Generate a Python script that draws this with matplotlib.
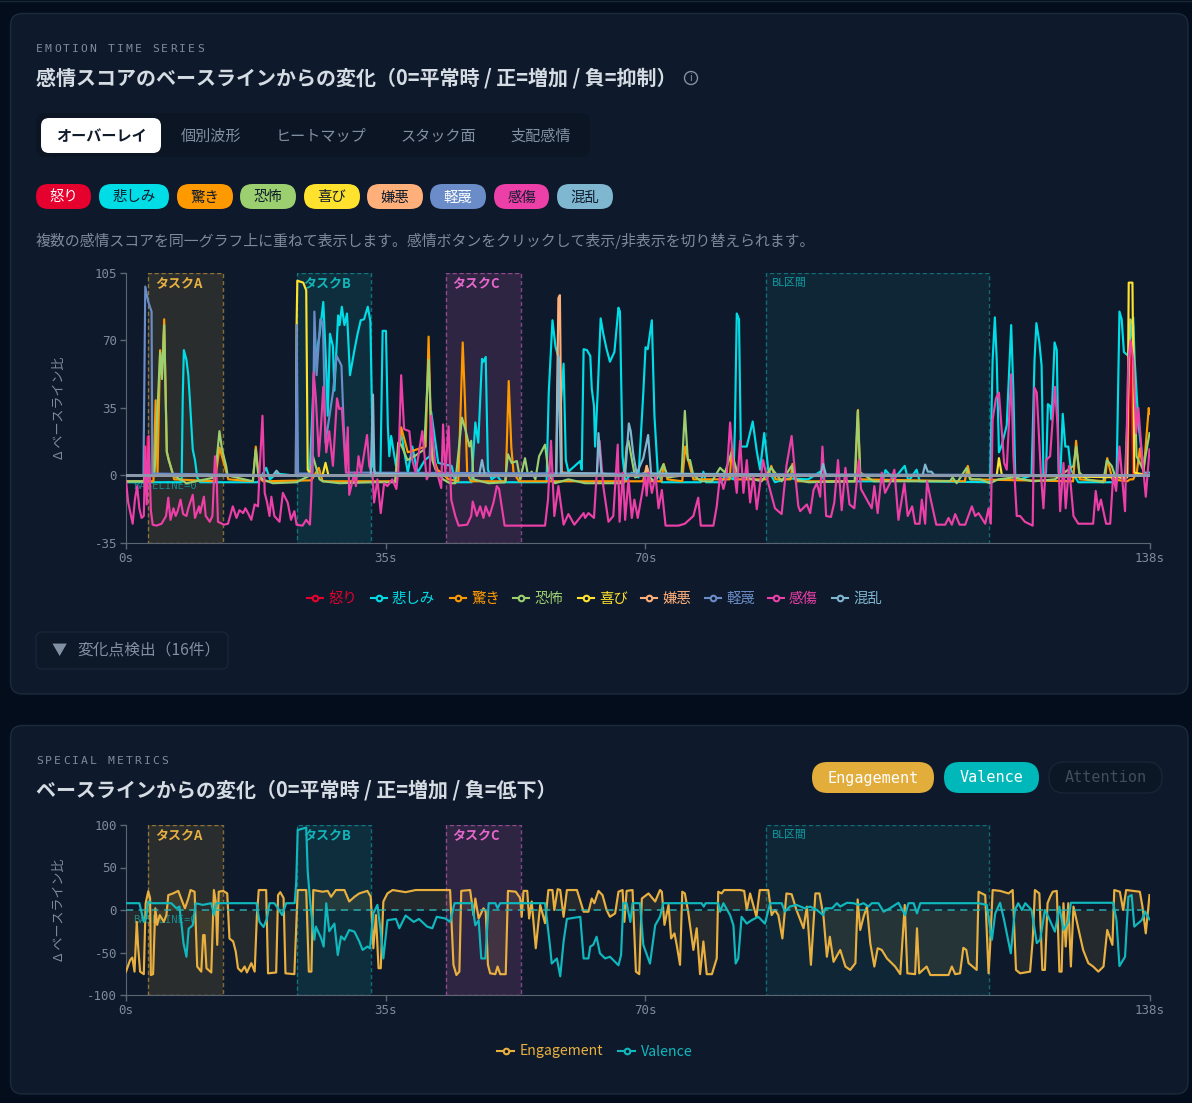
import matplotlib
matplotlib.use("Agg")
import matplotlib.pyplot as plt
from matplotlib.patches import FancyBboxPatch, Circle

plt.rcParams['font.family'] = ['Noto Sans CJK JP', 'DejaVu Sans']

# emotion series, seconds and score change
anger_t = [0, 2.7, 2.9, 3.1, 58.5, 58.75, 59, 135, 135.45, 135.8, 138]
anger_v = [0, 0, 20, 0, 0, 2, 0, 0, 68, 0, 0]

sad_t = [0, 7.5, 7.65, 7.8, 8.15, 8.4, 8.6, 9, 9.3, 9.6, 10, 17.8, 18.9, 19.4, 20.3, 22.7, 24.6, 24.8, 25.4, 26.1, 26.6, 26.95, 27.2, 27.5, 27.9, 28.1, 28.6, 28.8, 29.1, 29.45, 29.8, 30.2, 30.75, 31.2, 31.65, 32.1, 32.6, 32.95, 33.3, 33.7, 34.3, 34.6, 35.05, 35.3, 35.5, 35.75, 36.4, 37.1, 38, 38.6, 39.3, 40.3, 40.95, 41.15, 42.1, 43.9, 44.4, 46.6, 47.1, 47.5, 48, 48.2, 48.5, 48.8, 49.3, 50, 50.7, 56.7, 57, 57.5, 57.9, 58.4, 58.65, 59, 59.3, 59.65, 61.25, 61.45, 61.7, 62.15, 62.6, 62.8, 63.1, 63.25, 63.6, 64, 64.35, 64.8, 65.25, 65.85, 66.4, 66.6, 66.95, 67.3, 68.2, 69.1, 69.75, 70.05, 70.35, 70.9, 71.25, 71.7, 72.25, 77.5, 77.85, 78.2, 80.3, 80.75, 81.9, 82.1, 82.35, 82.65, 82.9, 83.7, 84.5, 85.05, 85.5, 86.05, 86.6, 87.5, 89.3, 92, 93.6, 94.2, 102, 102.4, 103.5, 105, 105.5, 106.6, 107, 116.5, 116.85, 117.15, 117.4, 117.7, 118.1, 118.75, 119.15, 119.35, 119.65, 119.9, 120.55, 122.1, 122.5, 122.75, 123.15, 123.45, 123.7, 124.05, 124.3, 124.6, 124.8, 125.2, 125.5, 125.75, 126, 126.3, 126.65, 127.05, 127.4, 128.4, 133.55, 133.95, 134.25, 134.55, 135.15, 135.8, 136, 136.5, 136.95, 137.25, 138]
sad_v = [-3.5, -3.5, 40, 65, 60, 52, 40, 13.5, 8, -1, -3.5, -3.5, 4, -2, 1, 0, 0, 5, 57, 73, 90, 60, 31, 73.5, 67, 44, 83, 78, 87.5, 78, 84, 52, 64, 73, 80.5, 81, 87.5, 80, 5, 0, 0, 75, 75, 26, 10, 20.5, 5, 22, 1.5, 15, 1.5, 8, 10, 33, 6.5, 5, -3.5, -3.5, 27.5, 17, 60.5, 59, 61.5, 3, -2, 0, -3.5, -3.5, 43, 80.5, 67, 60, 38, 58, 8, 2, 7.5, 3, 65.5, 65, 62, 45, 36, 15, 43, 81.5, 73.5, 65.5, 59, 64, 87, 85, 10, -3, 1.5, -1, 43, 66.5, 65.5, 80.5, 31, 1.5, -3.5, -3.5, 2, -3.5, -3.5, 0, -2, 25, 84, 81, 15, 15, 28, 12.5, 3, 22, 3, -3.5, -1.5, -2, 2, -3, -3, 2.8, -2, 5, -3, 3, -3, -3.5, 60, 82, 60, 12, 16, 26, 60, 78, 43, 0, -2, 0, 60, 79, 69, 57, 0, 1.5, 37, 36, 29, 69, 65, 1.5, 1.5, 32, 15, 15, 3, -3.5, -3.5, 85, 81, 64, 62, 82, 60, 27, 12, 1.5, 1.5]

surprise_t = [0, 3.7, 4, 4.25, 4.6, 4.85, 5.15, 5.5, 6.5, 12, 12.6, 13.3, 13.8, 17.1, 17.5, 17.9, 18.5, 25, 26, 26.5, 36.3, 36.7, 37.1, 38, 40.4, 40.8, 41.2, 42, 43.5, 44.8, 45, 45.4, 45.7, 46, 46.5, 51.2, 51.6, 51.95, 52.25, 53, 69.7, 70.2, 70.6, 72.2, 72.5, 73, 75, 75.4, 75.8, 76.5, 81.4, 81.7, 82.2, 86.4, 87, 87.6, 89.6, 89.85, 90.4, 98.3, 98.7, 99, 113.1, 113.5, 113.9, 127.7, 128.1, 128.6, 132, 132.3, 133, 135, 135.4, 135.8, 136.3, 136.7, 137.2, 137.9, 138]
surprise_v = [-3, -3, 39, 1, 65, 52, 81, 12, -2, -3, 14.5, 5, -2, -3, 15, -1, -3, -2.5, 4, -3, -3, 10, 25, 12, 15, 72, 12, 3, -2, -3, 20, 69, 39, 1.5, -3, -3, 49, 15, 1.5, -3, -3, 5, -3, -3, 6, -2, -3, 15, 8, -2, -2, 15, -2, -2, 5, -2, -2, 6, -3, -3, 34, -2, -3, 5, -2, -3, 18, -2, -3, 9, -2, -3, -2, -2, 2, 14, 1.5, 35, 32]

fear_t = [0, 2.4, 2.7, 3.1, 3.85, 4.1, 4.6, 4.85, 5.15, 5.5, 5.75, 6.4, 7.3, 8.15, 12, 12.6, 12.95, 13.5, 13.7, 17.1, 17.5, 17.8, 18.05, 18.4, 19.8, 23, 24.8, 25.2, 26.1, 26.55, 28.8, 33.25, 36.3, 36.7, 37.1, 37.95, 38.9, 40.2, 40.8, 41.3, 41.75, 42.75, 43.7, 44.4, 45.3, 45.75, 46.3, 46.55, 46.85, 48.9, 51.1, 51.5, 52, 52.7, 53.15, 53.8, 54.2, 54.7, 55.2, 55.7, 56.5, 57, 57.85, 59.65, 61.9, 66.4, 67.1, 67.5, 67.75, 68.65, 69.95, 71.35, 72.45, 73.1, 74.9, 75.35, 75.75, 76.05, 76.5, 77.6, 79, 80.1, 80.75, 81.65, 82.55, 85.7, 87, 88.4, 89.75, 90.2, 92, 98.25, 98.65, 99, 99.65, 100.8, 111.1, 111.45, 112, 113.35, 113.8, 115.15, 116.5, 117.6, 119.65, 122.35, 125.25, 127.75, 128.1, 128.55, 129.55, 131.75, 132.25, 132.9, 133.35, 134.7, 135.15, 135.4, 135.8, 136.25, 137.15, 138]
fear_v = [-3, -3, 7, -1, 1, 22, 64, 50, 78, 12.5, 8, 0, -2, -4, -1, 23, 13.5, 5, 0, -3, 13.5, 1.5, 0, -2, -4, -3.5, 0, 10, -2, -3, -4, -3.5, -3.5, 17, 16, 8, 10, 13.5, 60, 8, 3, -2, -4, -4, 30, 24, 15, 18, -2, -4, -3.5, 11, 6.5, 7.5, -2, 9, 0, 2, -2, 10, 16, 0, -4, -2, -4, -4, -4, 15, 18, -1, 1.5, -3.5, 5.7, -1, 0, 33.5, 8, 8, 0, -3, -3, 4, 1.5, 12, 0, -3, 4, -3, 5, -2, -3.5, -3, 33.5, 1.5, 0, -3, -3, -1, -4, 4, -2, -2, -4, -2, -1, -3, -2, 5, 15, 1.5, -2, -3.5, 8, 5, 0, -2, 43, 81, 78, 10, 3, 22]

joy_t = [0, 22.9, 23, 23.1, 23.9, 24.3, 24.5, 25, 26.5, 26.9, 27.3, 117.4, 117.7, 118.1, 135, 135.2, 135.7, 135.95, 138]
joy_v = [0, 0, 78, 101, 100, 96, 3, 0, 0, 6.6, 0, 0, 9, 0, -1, 100, 100, 1.5, 0]

disgust_t = [0, 58, 58.3, 58.5, 58.75, 70, 70.2, 70.6, 138]
disgust_v = [0, 0, 92, 93.5, 1.5, 0, 5, 0, 0]

contempt_t = [0, 2.35, 2.6, 3, 3.45, 3.55, 22.9, 23, 23.2, 25.15, 25.4, 25.7, 26.2, 26.55, 26.9, 27.9, 28.4, 29.05, 29.35, 29.7, 138]
contempt_v = [0, 0, 98, 90, 85, 1, 0, 78, 1, 1, 85, 52, 81, 79, 17, 43, 62, 57, 26, 1.5, 0]

sentiment_t = [0, .3, .9, 1.2, 1.5, 1.8, 2.1, 2.4, 2.6, 2.8, 3.05, 3.35, 3.6, 4.1, 4.8, 5.4, 5.7, 6, 6.4, 6.7, 7, 7.35, 7.7, 8.15, 8.4, 9, 9.3, 9.85, 10, 10.5, 10.75, 11.3, 11.65, 12, 12.2, 12.4, 13.2, 13.75, 14.4, 14.9, 15.3, 15.8, 16.1, 16.45, 16.9, 17.35, 17.8, 18, 18.4, 18.7, 19, 19.35, 19.6, 20, 20.7, 21.15, 21.8, 22.25, 22.7, 23, 23.8, 24.3, 24.8, 25, 25.3, 25.6, 26, 26.3, 26.6, 27, 27.4, 27.9, 28.45, 28.75, 29.1, 29.65, 29.9, 30.1, 30.8, 31, 31.35, 31.7, 32.5, 32.8, 33.25, 33.45, 33.9, 34.35, 34.8, 35.25, 35.9, 36.45, 36.7, 37.1, 37.5, 38.2, 38.6, 39.05, 39.95, 40.55, 40.95, 41.15, 41.7, 42.5, 42.75, 43.05, 43.5, 43.85, 44.4, 44.85, 46, 46.55, 46.75, 47.3, 47.75, 48.2, 48.5, 49, 49.55, 50, 50.3, 51.05, 56.5, 56.9, 57.3, 57.75, 58.3, 59, 59.65, 60.45, 61.7, 61.9, 62.35, 63.1, 63.45, 63.85, 64.35, 65.05, 65.7, 66.3, 66.55, 67, 67.3, 67.75, 68.2, 68.55, 69, 70, 70.2, 70.45, 70.9, 71.4, 71.8, 72.25, 72.75, 74.5, 75.35, 76.5, 77.15, 77.5, 79.2, 79.65, 80.1, 80.55, 81, 81.45, 81.9, 82.35, 82.8, 83.25, 83.7, 84.15, 84.6, 85.05, 85.9, 86.6, 87.5, 88.4, 89.05, 89.75, 90.2, 90.65, 90.9, 91.8, 92.25, 92.7, 93.15, 93.6, 93.9, 94.15, 94.4, 95.05, 95.5, 96, 96.5, 97, 97.55, 98.2, 98.8, 99.1, 100.1, 100.55, 100.9, 101.35, 101.9, 102.35, 103, 103.6, 104.15, 104.95, 105.4, 106, 106.4, 107, 107.3, 107.75, 108, 108.45, 109.25, 110.45, 110.9, 111.35, 111.8, 112.4, 113.15, 114.05, 114.5, 114.95, 115.85, 116.3, 116.6, 116.85, 117.3, 117.7, 118.1, 118.4, 118.75, 119.35, 119.65, 120.1, 120.55, 121.2, 122.25, 122.5, 122.8, 123.35, 123.7, 124.05, 124.6, 125.25, 125.6, 125.95, 126.4, 126.7, 127.15, 127.75, 128.4, 130.4, 130.75, 131.1, 131.45, 132.15, 132.7, 133.1, 133.5, 133.95, 134.25, 134.7, 135.15, 135.45, 135.8, 136.2, 136.5, 136.95, 137.5, 138]
sentiment_v = [-3, -14, -25, -12.5, -5.5, -17, -22, -21, 15, -15, 20.5, -18, -25.5, -26, -25, -21, -11.5, -23, -17, -21, -18, -12.5, -20, -21, -17, -10, -22, -16, -19.5, -11, -21, -24, -21, 10, 1.5, -24, -25.5, -25, -16, -22, -18, -19.5, -17, -19.5, -23, -15, -16, 1.5, 31, -9, -13.5, -21, -11, -21, -24, -9, -14, -23, -18.5, -25.5, -26, -23, -25.5, -9, 53.5, 40, 10, 26, 46, 12, 23, 5, 40, 34.5, 35, 1.5, 25, -10, 1.5, -5.5, 10, 1.5, 21, 5, 0, -14, -2, -19.5, -4, -5.5, -2, -7, 1.5, 52, 24, 23, 8, 1.5, 23, -2, 1.5, 31, 5, -6.5, 26.5, 1.5, 25.5, -12.5, -21, -26, -25.5, -21, -13.5, -21, -16, -22, -16, -21, -14, -5.5, -7, -26, -26, -12.5, 18, -21, -5.5, -25.5, -20, -25.5, -19.5, -22, -19.5, -22, 0, 18, -5.5, -24, -21, 16, -24, 1.5, -23, -2, -22, -12.5, -22, 0, -10.5, 1.5, -9, 0, -17, -7.5, -26, -26, -25, -21, -11.5, -26, -26, -16, 0, -7, 0, 27.5, 5, -9, 18, -9, 8, -14, 0, -17.5, 8, -4, -17, -20, 5, 20.5, 1.5, -16, -18.5, -15, -19.5, -7.5, -4, -11, 15, -2, -21, -21.5, -14, 8, -18, 4, -15, -17, 8, -7, -14, -17, -5.5, -19.5, 1.5, -9, -4, 3, -23, -4, -21, -16, -25, -25, -12.5, -25, -3, -11.5, -25.5, -25.5, -22, -25.5, -20, -25.5, -25.5, -16, -21, -19.5, -25, -17, -25, 29, 40, 43, 22.5, 6.5, 3, 52.5, 10, -21, -21, -24, -26, 45.5, 43, 1.5, -17, 8, 10, 46, 26, -18.5, 6.5, -17, 5, -21, -25, -25, -8, -18, -12.5, -25, -25, 0, -8, 15, 1.5, -18.5, 60, 70, 60, 22, 35, 12, -11, 13.5]

confusion_t = [0, 19.8, 20.3, 20.8, 33, 33.3, 33.5, 47.6, 48, 48.4, 58, 58.3, 58.65, 63.5, 63.7, 64.1, 67.3, 67.8, 68.05, 68.4, 68.85, 69.75, 70.4, 70.8, 93.6, 94, 94.4, 107.4, 107.75, 108.1, 108.6, 109, 138]
confusion_v = [0, 0, 2.5, 0, 0, 42, 1, 0, 8, 0, 0, 62, 1, 1, 22, 1, 0, 27, 23, 11, 1, 9, 21, 1, 0, 6, 0, 0, 5.7, 2, 2, 0, 0]

emotion_names = ['怒り', '悲しみ', '驚き', '恐怖', '喜び', '嫌悪', '軽蔑', '感傷', '混乱']
emotion_colors = ['#e6002e', '#00dde6', '#ff9900', '#9bcf6f', '#ffe22e', '#ffb07a', '#6a8cc8', '#ec3fa8', '#7fb6d0']

# special metrics
engagement_t = [0, .55, .85, 1.15, 1.45, 1.65, 1.9, 2.4, 2.65, 3, 3.25, 3.35, 3.65, 3.95, 4.2, 4.55, 5.1, 5.45, 5.7, 6.35, 7.05, 7.5, 7.95, 8.4, 8.7, 9.25, 9.6, 10.15, 10.4, 10.6, 10.85, 11.5, 11.75, 11.85, 12.1, 12.3, 12.5, 13.1, 13.65, 13.95, 14.45, 14.8, 15.1, 15.55, 16, 16.3, 16.9, 17.35, 17.65, 17.9, 18.9, 19.15, 20.25, 20.5, 20.8, 21.25, 21.5, 22.7, 23.15, 24.3, 24.65, 25, 25.25, 26.5, 27.2, 27.65, 28.3, 29.45, 30.1, 30.8, 31.45, 32.55, 33, 33.35, 33.7, 34.05, 34.35, 34.7, 35.25, 35.95, 37.7, 39.05, 43.7, 44.15, 44.55, 44.95, 45.2, 46.4, 46.85, 47.1, 47.55, 48.2, 48.5, 48.8, 49.1, 49.8, 50.1, 50.45, 51.2, 51.5, 52.55, 53.15, 53.35, 53.6, 54.1, 54.35, 54.7, 55.25, 55.85, 56.5, 56.95, 57.5, 57.75, 58.2, 58.55, 59, 59.45, 60.8, 61.7, 62.35, 62.8, 63.15, 63.7, 64.25, 64.8, 65.25, 65.95, 66.4, 66.95, 67.2, 67.5, 68.3, 68.75, 69.2, 69.55, 70.45, 71.35, 72, 72.25, 72.6, 73.15, 73.5, 73.95, 74.25, 74.7, 75, 75.35, 75.8, 76.5, 76.95, 77.4, 77.85, 78.3, 79, 79.65, 79.85, 80.3, 80.65, 82.8, 83.35, 83.7, 84.15, 85, 85.45, 86.6, 87.05, 87.5, 87.95, 88.5, 89.05, 89.75, 90.4, 91.35, 91.8, 92.35, 92.95, 93.5, 94.05, 94.5, 94.9, 95.4, 96.3, 97, 97.65, 98.35, 98.65, 99, 99.45, 99.9, 100.35, 100.9, 101.35, 101.9, 102.6, 103.7, 104.4, 105, 105.35, 106.4, 106.65, 106.95, 107.95, 108.45, 110.9, 111.35, 111.8, 112.45, 112.9, 113.3, 113.6, 114.7, 114.95, 115.85, 116.3, 116.5, 116.85, 117.85, 119, 119.55, 120, 120.55, 121.9, 122.25, 122.55, 123.15, 123.55, 123.9, 124.25, 124.6, 124.95, 125.5, 125.85, 126.15, 126.4, 126.7, 127.05, 127.4, 127.75, 128.4, 129.05, 129.75, 130.4, 131.1, 131.8, 132.3, 133, 133.25, 134, 134.45, 134.85, 136.7, 137.05, 137.5, 138]
engagement_v = [-72.5, -59, -56, -72.5, -14, -45, -72.5, -75.5, 8, 22, 14, -76.5, -75.5, 2, -17.5, -6, -14, -6, 17.5, 19.5, 22.5, 12, 2, 13.5, 23.5, 21.5, -66.5, -72.5, -29.5, -29.5, -68.5, -73.5, -6, 23.5, 10, -41, 21.5, 22.5, 19.5, -33.5, -37, -49, -68.5, -72.5, -66.5, -73.5, -62.5, -72.5, -6, 23.5, 23.5, -74.5, -73.5, 17.5, 21, 14, -74.5, -75.5, 23.5, 23.5, -72.5, -72.5, 23.5, 21.5, 22.5, 15.5, 23.5, 23.5, 10, 15.5, 19.5, 22.5, 15.5, -45, -6, -68.5, -68.5, 10, 19.5, 23.5, 21, 23.5, 23.5, -64.5, -76.5, -72.5, 22.5, 23.5, -6, 13.5, -10, 2, -2, -64.5, -74.5, -75.5, -66.5, -75.5, -75.5, 22.5, 21.5, 14, -8, 22.5, 22.5, -10, 10, -45, 6, -15.5, 23.5, 23.5, 0, 24.5, 23.5, -8, 23.5, 23.5, -2, -2, 13.5, 8, 22.5, 17.5, 0, -8, -4, 21.5, 23.5, -14, 22.5, 23.5, -72.5, -75.5, 13.5, 19.5, 10, 23.5, 21.5, -17.5, 6, -33.5, -27.5, -41, -64.5, 21.5, 19.5, -2, -47, -21.5, -75.5, -37, -75.5, -75.5, -57, 21.5, 19.5, 23.5, 23.5, 22.5, 0, 19.5, -8, 23.5, 23.5, -6, 0, -6, -33.5, 19.5, 18.5, 0, -21.5, 4, -64.5, 19.5, 19.5, -8, -55, -31.5, -61, -47, -66.5, -70.5, -62.5, 12.5, -23.5, -8, 4, -39, -66.5, -45, -47, -57, -66.5, -75.5, 6, -74.5, -75.5, -21.5, -74.5, -66.5, -76.5, -76.5, -66.5, -75.5, -74.5, -44.5, -47, -62.5, -70.5, 21.5, 17.5, -74.5, -45, 23.5, 22.5, 19.5, 23.5, -70.5, -74.5, -72.5, -35.5, 23.5, 19.5, -70.5, -70.5, 8, 15.5, 21.5, 22.5, -72.5, -72.5, 8, -43, 8, -66.5, 4, -21.5, -47, -62.5, -66.5, -72.5, -66.5, -23.5, -41, 23.5, 21.5, 0, 23.5, 21.5, 4, -27.5, 17.5]

valence_t = [0, 1.8, 2.4, 2.7, 3, 3.45, 6.1, 6.8, 7.2, 7.55, 7.75, 8.15, 8.45, 9, 9.4, 10.35, 11.5, 11.85, 12.2, 17.6, 18, 18.55, 19, 19.35, 20, 20.5, 21.05, 21.6, 22.75, 22.95, 23.15, 24.3, 24.5, 24.85, 25.4, 25.6, 26.3, 26.65, 27, 27.4, 28.1, 28.55, 29, 29.45, 30.1, 30.8, 31.45, 31.9, 32.55, 32.9, 33.35, 33.9, 34.35, 34.7, 35.25, 36.4, 36.85, 37.7, 38.8, 39.5, 40.6, 41.3, 41.9, 43.05, 43.7, 44.3, 46.65, 47.1, 47.55, 47.9, 48.45, 48.9, 49.8, 50.1, 50.45, 56.5, 57.2, 57.4, 58.1, 58.55, 59, 59.45, 61.25, 61.7, 62.35, 62.6, 63, 63.45, 63.9, 64.6, 65.25, 66.4, 66.75, 67.05, 67.5, 68, 68.3, 69.3, 69.75, 70.65, 71.35, 72, 72.45, 77.6, 77.9, 78.15, 79.85, 80.1, 80.55, 81.45, 81.9, 82.2, 82.55, 83, 83.7, 84.35, 85.25, 86.15, 86.85, 88.4, 88.85, 89.5, 90.4, 91.5, 92.25, 93.15, 94, 94.3, 95.2, 95.85, 96.3, 97.2, 98.1, 98.8, 99.45, 100.1, 100.55, 101.45, 102.15, 103, 104.15, 105.05, 105.5, 106.2, 106.65, 107.1, 114.95, 116.05, 116.75, 117.2, 117.85, 118.4, 119.3, 119.85, 120.3, 120.8, 121.25, 122.1, 122.8, 123.25, 123.9, 124.35, 125.25, 125.85, 126.4, 127.05, 127.4, 133.1, 133.55, 133.95, 134.7, 135.15, 135.6, 135.95, 136.95, 137.4, 138]
valence_v = [8, 8, -14, -10, 10, 8, 8, 2, 4, -22, -39, -55, -22, -18, 8, 6, 8, -6, 8, 8, -14, -20, -10, 8, 8, 2, -6, 8, 8, 33, 94, 97, 45, 8, -35, -19.5, -33, -43, 8, -25, -16, -53, -31, -35, -23.5, -25.5, -37, -47, -43, -45, -4, 6, -25.5, -57, -12, -10.5, -21.5, -6.5, -14, -10.5, -19.5, -21.5, -8, -10, -14, 8, 8, -18, -12, -57, -57, 8, 8, 2, 8, 8, -45, -63, -57, -78, -37, -10.5, -8, -57, -57, -43, -41, -31.5, -51, -57, -55, -65, -53, 8, 8, -14, 8, 8, -41, -63, -18, -8, 8, 8, 4, 8, 8, -2, 8, -6, -18, -63, -57, -8, -16, -12, -8, -16, 8, 8, -2, 4, 6, 2, 4, 0, -6, 2, 2, 8, 4, 8.5, 8, 6, 8, 4, 8, 8, -2, 2, 8.5, -6, 8, 8, -4, 8, 8, 6, -35, -4, 8.5, -12, -51, 0, 8, 0, 8, 0, -39, -35, 0, -8, -25.5, 4, -23.5, -14, 8.5, 8.5, -12, -66, -55, 15.5, 17.5, -19.5, -12, -2, -11]

# shaded task windows: start, end, label, colour, fill strength
windows = [(3.03, 13.07, 'タスクA', '#e8b040', 0.13),
           (23.05, 33.1, 'タスクB', '#12b5b8', 0.13),
           (43.2, 53.2, 'タスクC', '#e668cc', 0.15),
           (86.25, 116.4, 'BL区間', '#12a8ac', 0.09)]

TEXT = '#d6dce4'
MUTED = '#8290a3'
DIM = '#7f8b9c'
AXIS = '#5c6573'
MONO = ['DejaVu Sans Mono', 'Noto Sans CJK JP']
LW = 1.55

W, H = 1192, 1103


def chart_axes(top, bottom):
    ax = fig.add_axes([126 / W, 1 - bottom / H, 1023.5 / W, (bottom - top) / H], zorder=2)
    ax.patch.set_visible(False)
    ax.spines['top'].set_visible(False)
    ax.spines['right'].set_visible(False)
    ax.spines['left'].set_color(AXIS)
    ax.spines['bottom'].set_color(AXIS)
    ax.tick_params(colors=AXIS, length=4.5, width=1, labelcolor=DIM, pad=2)
    ax.set_xlim(0, 138)
    ax.set_xticks([0, 35, 70, 138])
    ax.set_xticklabels(['0s', '35s', '70s', '138s'], family=MONO, fontsize=9)
    return ax


def draw_windows(ax, y):
    for start, end, label, color, strength in windows:
        ax.axvspan(start, end, facecolor=color, alpha=strength, lw=0, zorder=1)
        ax.axvspan(start, end, facecolor='none', edgecolor=color, alpha=0.55, lw=1, ls=(0, (3, 2)), zorder=1)
        if label == 'BL区間':
            ax.text(start + 0.85, y, label, color=color, fontsize=7.8, va='center', zorder=2, alpha=0.9)
        else:
            ax.text(start + 0.85, y, label, color=color, fontsize=9.4, fontweight='bold', va='center', zorder=2)


def spaced_text(x, y, s, advance, **kw):
    for i, ch in enumerate(s):
        bg.text(x + i * advance, y, ch, ha='left', va='center', family=MONO, **kw)


def pill(x0, x1, y0, y1, radius, **kw):
    bg.add_patch(FancyBboxPatch((x0, y0), x1 - x0, y1 - y0,
                                boxstyle=f'round,pad=0,rounding_size={radius}', **kw))


fig = plt.figure(figsize=(W / 100, H / 100), dpi=100, facecolor='#030d1c')

# page furniture lives on a full-figure axes measured in pixels
bg = fig.add_axes([0, 0, 1, 1], zorder=0)
bg.set_xlim(0, W)
bg.set_ylim(H, 0)
bg.axis('off')

bg.plot([0, W], [0.5, 0.5], color='#1a2738', lw=1)
pill(10.5, 1188, 13.5, 694, 12, facecolor='#0e1a2b', edgecolor='#1c2a3c', lw=1)
pill(10.5, 1188, 725.5, 1094, 12, facecolor='#0e1a2b', edgecolor='#1c2a3c', lw=1)

spaced_text(36, 48.5, 'EMOTION TIME SERIES', 8.95, color=DIM, fontsize=8.2)
bg.text(36, 78.5, '感情スコアのベースラインからの変化（0=平常時 / 正=増加 / 負=抑制）',
        color=TEXT, fontsize=14.4, fontweight='bold', va='center')
bg.add_patch(Circle((691, 78), 6.5, facecolor='none', edgecolor=MUTED, lw=1))
bg.text(691, 78, 'i', color=MUTED, fontsize=7.5, ha='center', va='center')

# view tabs
pill(36, 590, 113, 157, 9, facecolor='#0b1523', edgecolor='none')
pill(41, 161, 118, 153, 8, facecolor='white', edgecolor='none')
bg.text(101, 136.5, 'オーバーレイ', color='#101a2b', fontsize=10.9, fontweight='bold', ha='center', va='center')
for cx, label in zip([211, 321, 438, 541], ['個別波形', 'ヒートマップ', 'スタック面', '支配感情']):
    bg.text(cx, 136.5, label, color=MUTED, fontsize=10.9, ha='center', va='center')

# emotion toggle chips
chip_x0 = [36, 99, 177, 240, 304, 367, 430, 494, 557]
chip_x1 = [91, 169, 233, 296, 360, 423, 486, 549, 613]
chip_text = ['white', '#0f1b2c', '#0f1b2c', '#0f1b2c', '#0f1b2c', '#0f1b2c', 'white', '#0f1b2c', '#0f1b2c']
for x0, x1, name, color, tc in zip(chip_x0, chip_x1, emotion_names, emotion_colors, chip_text):
    pill(x0, x1, 184, 209, 12.5, facecolor=color, edgecolor='none')
    bg.text((x0 + x1) / 2, 197.5, name, color=tc, fontsize=10.4, ha='center', va='center')

bg.text(36, 241, '複数の感情スコアを同一グラフ上に重ねて表示します。感情ボタンをクリックして表示/非表示を切り替えられます。',
        color=DIM, fontsize=10.76, va='center')

# legend row under the overlay chart
legend_x = [307, 371, 450, 513, 578, 641, 705, 768, 832]
for x, name, color in zip(legend_x, emotion_names, emotion_colors):
    bg.plot([x, x + 16], [598, 598], color=color, lw=1.5)
    bg.plot([x + 8], [598], 'o', ms=4, mfc='#0e1a2b', mec=color, mew=1.5)
    bg.text(x + 21, 598.5, name, color=color, fontsize=10.4, va='center')

pill(36, 228, 632, 669, 6, facecolor='#0d1828', edgecolor='#18253a', lw=1)
bg.text(59, 650, '▼', color=MUTED, fontsize=11, ha='center', va='center')
bg.text(77, 651, '変化点検出（16件）', color=MUTED, fontsize=11.3, va='center')

spaced_text(36, 760.5, 'SPECIAL METRICS', 8.95, color=DIM, fontsize=8.2)
bg.text(36, 790, 'ベースラインからの変化（0=平常時 / 正=増加 / 負=低下）',
        color=TEXT, fontsize=14.4, fontweight='bold', va='center')

pill(812, 934, 762, 793, 15.5, facecolor='#e3ad3c', edgecolor='none')
bg.text(873, 778, 'Engagement', color='white', family=MONO, fontsize=10.9, ha='center', va='center')
pill(944, 1039, 762, 793, 15.5, facecolor='#00b7ba', edgecolor='none')
bg.text(991.5, 778, 'Valence', color='white', family=MONO, fontsize=10.9, ha='center', va='center')
pill(1049, 1162, 762, 793, 15.5, facecolor='#0c1726', edgecolor='#182536', lw=1)
bg.text(1105.5, 778, 'Attention', color='#414d5c', family=MONO, fontsize=10.9, ha='center', va='center')

for x, name, color in [(497, 'Engagement', '#e9b040'), (618, 'Valence', '#10b8bd')]:
    bg.plot([x, x + 17], [1051, 1051], color=color, lw=1.5)
    bg.plot([x + 8.5], [1051], 'o', ms=4, mfc='#0e1a2b', mec=color, mew=1.5)
    bg.text(x + 23, 1051.5, name, color=color, fontsize=10.2, va='center')

# overlay chart
ax1 = chart_axes(273, 543)
ax1.set_ylim(-35, 105)
ax1.set_yticks([-35, 0, 35, 70, 105])
ax1.set_yticklabels(['-35', '0', '35', '70', '105'], family=MONO, fontsize=9)
ax1.set_ylabel('Δ ベースライン比', color=DIM, fontsize=9.4)
ax1.yaxis.set_label_coords(-0.059, 0.5)
draw_windows(ax1, 100)
ax1.text(1, -5.7, 'BASELINE=0', color='#12a8ac', alpha=0.75, family=MONO, fontsize=7.6, va='center', zorder=2)

series = [(anger_t, anger_v), (sad_t, sad_v), (surprise_t, surprise_v), (fear_t, fear_v), (joy_t, joy_v),
          (disgust_t, disgust_v), (contempt_t, contempt_v), (sentiment_t, sentiment_v), (confusion_t, confusion_v)]
for (t, v), color in zip(series, emotion_colors):
    ax1.plot(t, v, color=color, lw=LW, solid_joinstyle='round', zorder=3)
ax1.axhline(0, color='#8c96a8', lw=2, alpha=0.9, zorder=4)

# special metrics chart
ax2 = chart_axes(825, 995)
ax2.set_ylim(-100, 100)
ax2.set_yticks([-100, -50, 0, 50, 100])
ax2.set_yticklabels(['-100', '-50', '0', '50', '100'], family=MONO, fontsize=9)
ax2.set_ylabel('Δ ベースライン比', color=DIM, fontsize=9.4)
ax2.yaxis.set_label_coords(-0.059, 0.5)
draw_windows(ax2, 88)
ax2.text(1, -12, 'BASELINE=0', color='#12a8ac', alpha=0.75, family=MONO, fontsize=7.6, va='center', zorder=2)

ax2.fill_between(engagement_t, engagement_v, 0, color='#e9b040', alpha=0.1, lw=0, zorder=2)
ax2.plot(engagement_t, engagement_v, color='#e9b040', lw=LW, solid_joinstyle='round', zorder=3)
ax2.plot(valence_t, valence_v, color='#10b8bd', lw=LW, solid_joinstyle='round', zorder=3)
ax2.axhline(0, color='#2bb3b3', lw=1.3, ls=(0, (4, 3)), alpha=0.8, zorder=4)

fig.savefig('out.png', dpi=100, facecolor=fig.get_facecolor())
